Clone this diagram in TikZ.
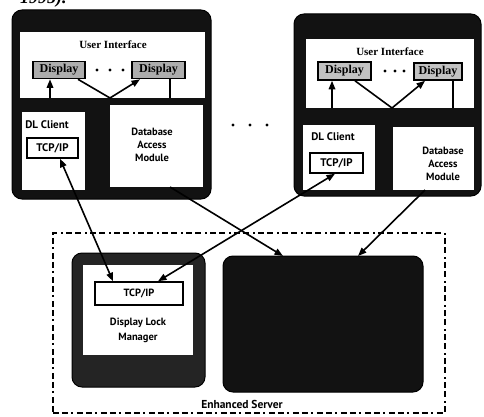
\documentclass[tikz,border=0pt]{standalone}
\usepackage{fontspec}
\setmainfont{Liberation Serif}
\newfontfamily\labelsans{PT Sans}
\usetikzlibrary{arrows.meta}

\begin{document}
\begin{tikzpicture}[x=1pt,y=-1pt,
  frame/.style={fill=black!93, draw=black, line width=1pt, rounded corners=10pt,
    anchor=north west, inner sep=0pt, outer sep=0pt},
  panel/.style={fill=white, draw=none, anchor=north west, inner sep=0pt, outer sep=0pt},
  disp/.style={draw=black, line width=1.6pt, fill=black!32, inner sep=0pt,
    minimum height=17pt, font=\bfseries\fontsize{12}{12}\selectfont},
  tcpbox/.style={draw=black, line width=1.5pt, fill=white, inner sep=0pt,
    font=\labelsans\bfseries\fontsize{11}{11}\selectfont},
  lbl/.style={font=\labelsans\bfseries\fontsize{10.5}{13}\selectfont, align=center, inner sep=0pt},
  uititle/.style={font=\bfseries\fontsize{11}{11}\selectfont, inner sep=0pt},
  wire/.style={line width=1.6pt},
  arr/.style={wire, -{Triangle[length=8.5pt,width=6.5pt]}},
  biarr/.style={wire, {Triangle[length=8.5pt,width=6.5pt]}-{Triangle[length=8.5pt,width=6.5pt]}},
  dotc/.style={circle, fill=black, inner sep=0pt, minimum size=3.2pt},
  groupline/.style={line width=1.8pt, dash pattern=on 6pt off 3pt on 6pt off 3pt on 2pt off 4pt}
]
\useasboundingbox (0,0) rectangle (484,417);

% tail of the caption line above the figure
\begin{scope}
  \clip (0,0) rectangle (484,417);
  \node[anchor=base west, inner sep=0pt, font=\bfseries\itshape\fontsize{18}{18}\selectfont]
    (captail) at (20,4) {1995).};
\end{scope}

% ---------- left client workstation ----------
\node[frame, minimum width=199pt, minimum height=189pt] (lframe) at (12,10) {};
\node[panel, minimum width=185pt, minimum height=66pt] (lui) at (20,32) {};
\node[uititle] (luit) at (113,45) {User Interface};
\node[disp, minimum width=52pt] (ld1) at (59,70) {Display};
\node[disp, minimum width=53pt] (ld2) at (158.5,70) {Display};
\node[dotc] (ldotA) at (97,70) {};
\node[dotc] (ldotB) at (110,70) {};
\node[dotc] (ldotC) at (123,70) {};
\coordinate (ljn) at (110,98);
\coordinate (lj1) at (50,98);
\coordinate (lj2) at (170,98);
\draw[arr] (lj1) -- (lj1 |- ld1.south);
\draw[wire] (lj2) -- (lj2 |- ld2.south);
\draw[wire] (ljn) -- ([xshift=19pt]ld1.south);
\draw[arr] (ljn) -- ([xshift=-18.5pt]ld2.south);
\node[panel, minimum width=63pt, minimum height=78pt] (ldl) at (22,112) {};
\node[lbl, font=\labelsans\bfseries\fontsize{11}{11}\selectfont] (ldlt) at (47,125) {DL Client};
\node[tcpbox, minimum width=51pt, minimum height=20pt] (ltcp) at (52.5,148) {TCP/IP};
\node[panel, minimum width=93pt, minimum height=82pt] (ldam) at (110,105) {};
\node[lbl] (ldamt) at (152,145) {Database\\Access\\Module};

% ---------- dots between the workstations ----------
\node[dotc] (mdotA) at (233,125) {};
\node[dotc] (mdotB) at (250,125) {};
\node[dotc] (mdotC) at (267,125) {};

% ---------- right client workstation ----------
\node[frame, minimum width=187pt, minimum height=182pt] (rframe) at (294,14) {};
\node[panel, minimum width=168pt, minimum height=69pt] (rui) at (306,39) {};
\node[uititle] (ruit) at (390,52) {User Interface};
\node[disp, minimum width=53pt, minimum height=18pt, fill=black!24] (rd1) at (344.5,71) {Display};
\node[disp, minimum width=48pt, fill=black!24] (rd2) at (438,71.5) {Display};
\node[dotc] (rdotA) at (385,71) {};
\node[dotc] (rdotB) at (395,71) {};
\node[dotc] (rdotC) at (404,71) {};
\coordinate (rjn) at (392,108);
\coordinate (rj1) at (332,108);
\coordinate (rj2) at (453,108);
\draw[arr] (rj1) -- (rj1 |- rd1.south);
\draw[wire] (rj2) -- (rj2 |- rd2.south);
\draw[wire] (rjn) -- ([xshift=10.5pt]rd1.south);
\draw[arr] (rjn) -- ([xshift=-13pt]rd2.south);
\node[panel, minimum width=72pt, minimum height=65pt] (rdl) at (303,125) {};
\node[lbl, font=\labelsans\bfseries\fontsize{11}{11}\selectfont] (rdlt) at (333,137) {DL Client};
\node[tcpbox, minimum width=53pt, minimum height=20pt] (rtcp) at (336.5,163) {TCP/IP};
\node[panel, minimum width=81pt, minimum height=63pt] (rdam) at (393,127) {};
\node[lbl] (rdamt) at (443,164) {Database\\Access\\Module};

% ---------- enhanced server ----------
\node[groupline, draw=black, anchor=north west, inner sep=0pt,
  minimum width=392pt, minimum height=180pt] (server) at (52,232) {};
\node[font=\labelsans\bfseries\fontsize{11.5}{11.5}\selectfont, inner sep=0pt]
  (servert) at (242,404) {Enhanced Server};
\node[frame, fill=black!86, minimum width=133pt, minimum height=134pt] (dlm) at (72,253) {};
\node[panel, minimum width=110pt, minimum height=90pt] (dlmin) at (83,265) {};
\node[tcpbox, minimum width=88pt, minimum height=23pt,
  font=\labelsans\bfseries\fontsize{10.5}{10.5}\selectfont] (dtcp) at (139,293.5) {TCP/IP};
\node[lbl, font=\labelsans\bfseries\fontsize{10.5}{15}\selectfont] (dlmt) at (138,330.5) {Display Lock\\Manager};
\node[frame, minimum width=200pt, minimum height=136pt] (dbs) at (223,256) {};

% ---------- connections ----------
\draw[biarr] ([xshift=7.5pt]ltcp.south) -- ([xshift=-26pt]dtcp.north);
\draw[biarr] ([xshift=-1.5pt]rtcp.south) -- ([xshift=19pt]dtcp.north);
\draw[arr] ([xshift=13.5pt]ldam.south) -- ([xshift=-40pt]dbs.north);
\draw[arr] ([xshift=-8.5pt]rdam.south) -- ([xshift=35pt]dbs.north);
\end{tikzpicture}
\end{document}
